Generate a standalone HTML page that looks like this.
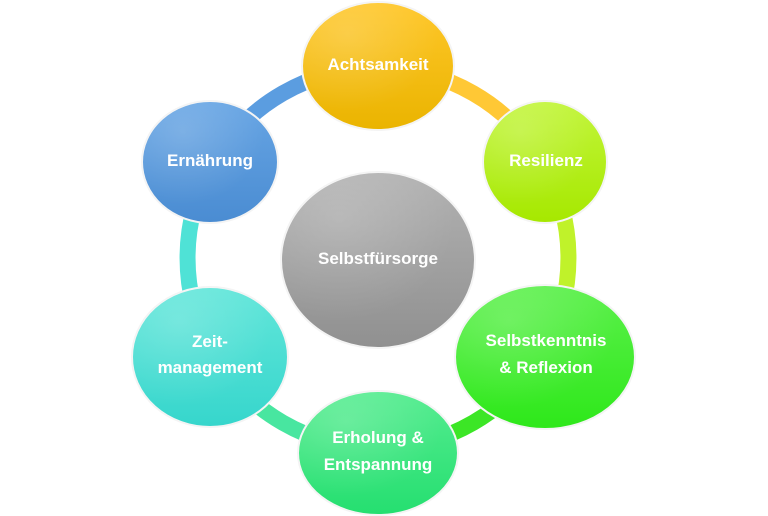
<!DOCTYPE html>
<html><head><meta charset="utf-8"><style>
html,body{margin:0;padding:0;background:#fff;}
svg{display:block}
text{font-family:"Liberation Sans","DejaVu Sans",sans-serif;font-weight:bold;fill:#fff;font-size:17px;text-anchor:middle}
</style></head><body>
<svg width="768" height="516" viewBox="0 0 768 516">
<defs>
<linearGradient id="gA" x1="0" y1="0" x2="0" y2="1"><stop offset="0" stop-color="#ffc72a"/><stop offset="1" stop-color="#eab400"/></linearGradient>
<linearGradient id="gR" x1="0" y1="0" x2="0" y2="1"><stop offset="0" stop-color="#c2f53a"/><stop offset="1" stop-color="#a6e800"/></linearGradient>
<linearGradient id="gS" x1="0" y1="0" x2="0" y2="1"><stop offset="0" stop-color="#5cf04c"/><stop offset="1" stop-color="#2ee81a"/></linearGradient>
<linearGradient id="gE" x1="0" y1="0" x2="0" y2="1"><stop offset="0" stop-color="#55ec90"/><stop offset="1" stop-color="#25df70"/></linearGradient>
<linearGradient id="gZ" x1="0" y1="0" x2="0" y2="1"><stop offset="0" stop-color="#62e6da"/><stop offset="1" stop-color="#36d6cc"/></linearGradient>
<linearGradient id="gN" x1="0" y1="0" x2="0" y2="1"><stop offset="0" stop-color="#67a5e4"/><stop offset="1" stop-color="#4a8cd2"/></linearGradient>
<linearGradient id="gC" x1="0" y1="0" x2="0" y2="1"><stop offset="0" stop-color="#b2b2b2"/><stop offset="1" stop-color="#909090"/></linearGradient>
<radialGradient id="hl" cx="0.3" cy="0.25" r="0.6"><stop offset="0" stop-color="#fff" stop-opacity="0.18"/><stop offset="1" stop-color="#fff" stop-opacity="0"/></radialGradient>
</defs>
<g fill="none" stroke-width="16">
<path d="M378 68 A190 190 0 0 1 543 163" stroke="#ffc835"/>
<path d="M543 163 A190 190 0 0 1 543 353" stroke="#c0f22a"/>
<path d="M543 353 A190 190 0 0 1 378 448" stroke="#3ce626"/>
<path d="M378 448 A190 190 0 0 1 213 353" stroke="#48e6a0"/>
<path d="M213 353 A190 190 0 0 1 213 163" stroke="#4fe2d6"/>
<path d="M213 163 A190 190 0 0 1 378 68" stroke="#5b9de0"/>
</g>
<g stroke="#f4f4f4" stroke-width="2">
<ellipse cx="378" cy="260" rx="97" ry="88" fill="url(#gC)"/>
<ellipse cx="378" cy="66" rx="76" ry="64" fill="url(#gA)"/>
<ellipse cx="545" cy="162" rx="62" ry="61" fill="url(#gR)"/>
<ellipse cx="545" cy="357" rx="90" ry="72" fill="url(#gS)"/>
<ellipse cx="378" cy="453" rx="80" ry="62" fill="url(#gE)"/>
<ellipse cx="210" cy="357" rx="78" ry="70" fill="url(#gZ)"/>
<ellipse cx="210" cy="162" rx="68" ry="61" fill="url(#gN)"/>
</g>
<g fill="url(#hl)">
<ellipse cx="378" cy="260" rx="97" ry="88"/>
<ellipse cx="378" cy="66" rx="76" ry="64"/>
<ellipse cx="545" cy="162" rx="62" ry="61"/>
<ellipse cx="545" cy="357" rx="90" ry="72"/>
<ellipse cx="378" cy="453" rx="80" ry="62"/>
<ellipse cx="210" cy="357" rx="78" ry="70"/>
<ellipse cx="210" cy="162" rx="68" ry="61"/>
</g>
<text x="378" y="70">Achtsamkeit</text>
<text x="546" y="166">Resilienz</text>
<text x="210" y="166">Ernährung</text>
<text x="378" y="264" font-size="18">Selbstfürsorge</text>
<text x="546" y="346">Selbstkenntnis</text>
<text x="546" y="373">&amp; Reflexion</text>
<text x="210" y="347">Zeit-</text>
<text x="210" y="373">management</text>
<text x="378" y="443">Erholung &amp;</text>
<text x="378" y="470">Entspannung</text>
</svg>
</body></html>
